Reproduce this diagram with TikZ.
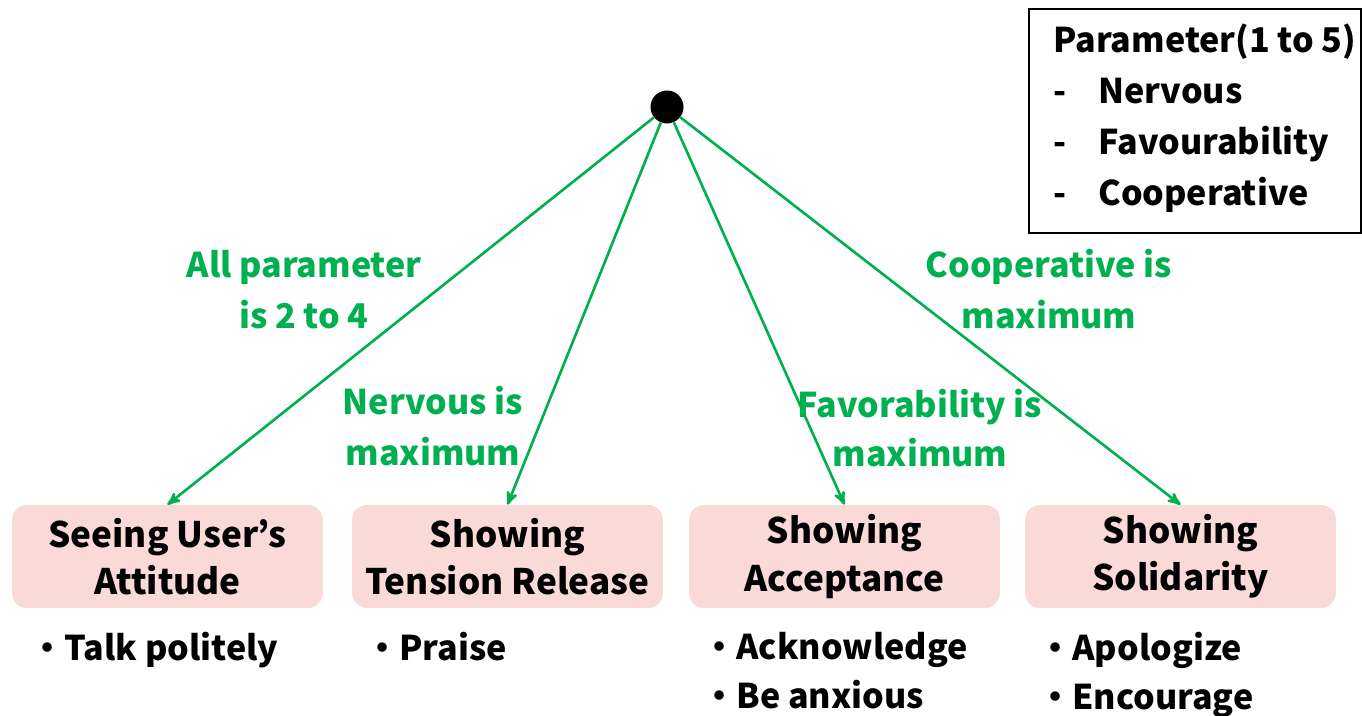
\documentclass[tikz,border=0pt]{standalone}
\usepackage{fontspec}
\setmainfont{Noto Sans CJK JP}
\usetikzlibrary{arrows,positioning}
\definecolor{condgreen}{RGB}{0,176,80}
\definecolor{boxpink}{RGB}{250,218,215}

\begin{document}
\begin{tikzpicture}[x=0.02cm,y=-0.02cm,>=stealth',
                    font=\bfseries\fontsize{19.4}{24}\selectfont]
      \tikzstyle{behaviour}=[fill=boxpink,rounded corners=0.3cm,minimum width=6.22cm,
                             minimum height=2.06cm,align=center,inner sep=0pt,
                             font=\bfseries\fontsize{20}{24}\selectfont]
      \tikzstyle{cond}=[text=condgreen,align=center]
      \tikzstyle{link}=[->,draw=condgreen,fill=condgreen,line width=1.5pt]
      \tikzstyle{action}=[anchor=north west,align=left,inner sep=0pt]

      \useasboundingbox (0,0) rectangle (1362,716);

      % start point
      \node[circle,fill=black,minimum size=0.66cm,inner sep=0pt] (root) at (667,107) {};

      % behaviours
      \node[behaviour] (attitude)   at (167.5,556.5) {Seeing User’s\\[3pt]Attitude};
      \node[behaviour] (tension)    at (507.5,556.5) {Showing\\[3pt]Tension Release};
      \node[behaviour] (acceptance) at (844.5,556.5) {Showing\\[3pt]Acceptance};
      \node[behaviour] (solidarity) at (1180.5,556.5) {Showing\\[3pt]Solidarity};

      % conditions
      \node[cond] (c1) at (304,289.5) {All parameter\\[5pt]is 2 to 4};
      \node[cond] (c2) at (433,426)   {Nervous is\\[5pt]maximum};
      \node[cond] (c3) at (920,428)   {Favorability is\\[4pt]maximum};
      \node[cond] (c4) at (1049,289.5) {Cooperative is\\[5pt]maximum};

      \path (root) edge[link] (attitude.north)
            (root) edge[link] (tension.north)
            (root) edge[link] (acceptance.north)
            (root) edge[link] (solidarity.north);

      % example actions
      \node[action] (a1) at (30,632)   {・Talk politely};
      \node[action] (a2) at (365,632)  {・Praise};
      \node[action] (a3) at (702,632)  {・Acknowledge\\[4pt]・Be anxious};
      \node[action] (a4) at (1038,632) {・Apologize\\[4pt]・Encourage};

      % parameter legend
      \node[draw,line width=1.1pt,anchor=north west,minimum width=6.64cm,minimum height=4.48cm,
            inner sep=0pt] (legend) at (1028,8) {};
      \node[anchor=north west,align=left,inner sep=0pt] (legendtext) at (1053,23)
            {\begin{tabular}{@{}l@{\hspace{0.64cm}}l@{}}
             \multicolumn{2}{@{}l@{}}{Parameter(1 to 5)}\\[5pt]
             - & Nervous\\[5pt]
             - & Favourability\\[5pt]
             - & Cooperative
             \end{tabular}};

    \end{tikzpicture}
\end{document}
